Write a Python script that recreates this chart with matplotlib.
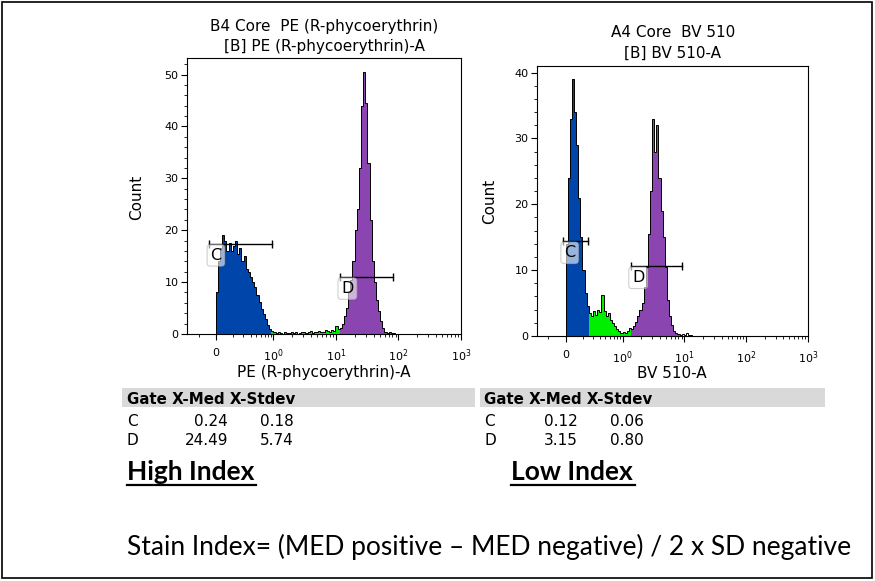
import numpy as np
import matplotlib.pyplot as plt
from matplotlib.patches import Rectangle
from matplotlib.lines import Line2D
from matplotlib.ticker import FixedLocator, MultipleLocator

plt.rcParams['font.family'] = ['DejaVu Sans']

# histogram counts per channel, channel 0 starts at 0; 27 channels span 0..10^0
pe_counts = [8, 14, 16.5, 19, 18, 16, 17.5, 16, 17, 18, 15.5, 16.5, 14, 15, 12.5, 12,
             11, 10, 9, 7.5, 6.2, 4.8, 3.8, 2.8, 1.8, 1.0, 0.5,
             0.3, 0.1, 0.4, 0.2, 0, 0.3, 0.2, 0.1, 0.4, 0.2, 0.3, 0, 0.2, 0.4, 0.3, 0.1,
             0.3, 0.5, 0.2, 0.4, 0.3, 0.6, 0.4, 0.3, 0.7, 0.5, 0.4, 0.8,
             0.6, 1.5, 0.9, 1.2, 2.0, 3.5, 5.0, 8.0, 10.5, 14, 20, 24, 32, 44, 50.5, 44.5,
             33, 22, 14, 10, 6.5, 4.5, 2.5, 1.2, 0.4, 0.2, 0.3, 0.1, 0.2]
bv_counts = [14, 24, 33, 39, 34, 29, 21, 15, 10, 6.5, 4.5,
             3.5, 3.0, 3.8, 3.2, 4.0, 3.6, 6.2, 3.8, 3.0, 3.5, 2.4, 2.0, 1.5, 1.0, 0.8,
             0.5, 0.6, 0.4, 0.8, 1.2,
             1.0, 1.5, 2.2, 3.0, 4.0, 5.0, 7.5, 10.5, 15.5, 22, 33, 28, 32, 24, 19, 15,
             10.5, 5.5, 3.0, 1.7, 0.8, 0.4, 0.3, 0.2,
             0.3, 0.1, 0.4, 0.2, 0.1]

gate_names = ["C", "D"]
pe_gate_lo = [-0.12, 11.5]
pe_gate_hi = [0.97, 81.0]
pe_gate_y = [17.4, 11.0]
bv_gate_lo = [-0.05, 1.35]
bv_gate_hi = [0.40, 9.0]
bv_gate_y = [14.4, 10.6]

pe_med = ["0.24", "24.49"]
pe_sd = ["0.18", "5.74"]
bv_med = ["0.12", "3.15"]
bv_sd = ["0.06", "0.80"]

tick_vals = [0, 1, 10, 100, 1000]
tick_text = ["0", "$10^0$", "$10^1$", "$10^2$", "$10^3$"]

BLUE = "#0046aa"
PURPLE = "#8a45b0"
GREEN = "#00ee00"

W, H = 875, 581
FS = 11


def fx(x):
    return x / W


def fy(y):
    return 1 - y / H


def draw_hist(ax, counts, lo, hi, gy, ymax):
    ax.set_xscale("symlog", linthresh=1, linscale=0.83)
    ax.set_xlim(-0.5, 1000)
    ax.set_ylim(0, ymax)
    tr = ax.xaxis.get_transform()
    inv = tr.inverted()
    step = tr.transform(np.array([1.0]))[0] / 27
    n = len(counts)
    counts = np.asarray(counts, float)
    edges = inv.transform(np.arange(n + 1) * step)
    mids = inv.transform((np.arange(n) + 0.5) * step)

    masks = [((mids >= lo[0]) & (mids <= hi[0]), BLUE),
             ((mids >= lo[1]) & (mids <= hi[1]), PURPLE),
             ((mids > hi[0]) & (mids < lo[1]), GREEN)]
    for m, col in masks:
        idx = np.where(m)[0]
        if len(idx):
            a, b = idx[0], idx[-1] + 1
            ax.stairs(counts[a:b], edges[a:b + 1], fill=True, color=col, lw=0)
    ax.stairs(counts, edges, color="black", lw=0.7)

    for name, l, h, y in zip(gate_names, lo, hi, gy):
        ax.plot([l, h], [y, y], color="black", lw=1, marker="|", ms=6, mew=1)
        ax.annotate(name, xy=(l, y), xytext=(1, -3), textcoords="offset points",
                    ha="left", va="top", fontsize=11.5,
                    bbox=dict(boxstyle="round,pad=0.2", fc="white", ec="#b0b0b0",
                              lw=0.8, alpha=0.6))

    ax.xaxis.set_major_locator(FixedLocator(tick_vals))
    ax.set_xticklabels(tick_text)
    minor = [-0.3] + list(np.log10(np.arange(2, 10)))
    minor += [m * 10 ** k for k in range(3) for m in range(2, 10)]
    ax.xaxis.set_minor_locator(FixedLocator(minor))
    ax.yaxis.set_major_locator(MultipleLocator(10))
    ax.yaxis.set_minor_locator(MultipleLocator(2))
    ax.tick_params(which="major", length=4, width=0.8, labelsize=8, pad=2)
    ax.tick_params(axis="x", which="major", pad=6)
    ax.tick_params(which="minor", length=2, width=0.6)
    for s in ax.spines.values():
        s.set_linewidth(0.8)


fig = plt.figure(figsize=(W / 100, H / 100), dpi=100)

ax1 = fig.add_axes([fx(187), fy(334), fx(461 - 187), (334 - 58) / H])
draw_hist(ax1, pe_counts, pe_gate_lo, pe_gate_hi, pe_gate_y, 53.2)
ax2 = fig.add_axes([fx(537), fy(336), fx(808 - 537), (336 - 66) / H])
draw_hist(ax2, bv_counts, bv_gate_lo, bv_gate_hi, bv_gate_y, 41)

# titles and axis labels
fig.text(fx(324), fy(31), "B4 Core  PE (R-phycoerythrin)", ha="center", va="baseline", fontsize=FS)
fig.text(fx(324), fy(51), "[B] PE (R-phycoerythrin)-A", ha="center", va="baseline", fontsize=FS)
fig.text(fx(673), fy(37), "A4 Core  BV 510", ha="center", va="baseline", fontsize=FS)
fig.text(fx(673), fy(58), "[B] BV 510-A", ha="center", va="baseline", fontsize=FS)
fig.text(fx(137), fy(197), "Count", rotation=90, ha="center", va="center", fontsize=FS)
fig.text(fx(490), fy(201), "Count", rotation=90, ha="center", va="center", fontsize=FS)
fig.text(fx(324), fy(373), "PE (R-phycoerythrin)-A", ha="center", va="center", fontsize=FS)
fig.text(fx(672), fy(373), "BV 510-A", ha="center", va="center", fontsize=FS)

# statistic tables
for x0, x1 in [(122, 475), (480, 825)]:
    fig.patches.append(Rectangle((fx(x0), fy(407)), fx(x1 - x0), 19 / H,
                                 transform=fig.transFigure, fc="#d9d9d9", ec="none"))
for left, mr, sr, med, sd in [(127, 228, 294, pe_med, pe_sd), (484, 578, 644, bv_med, bv_sd)]:
    fig.text(fx(left), fy(404), "Gate X-Med X-Stdev", ha="left", va="baseline",
             fontsize=10.8, fontweight="bold")
    for i, name in enumerate(gate_names):
        yb = [426, 445][i]
        fig.text(fx(left), fy(yb), name, ha="left", va="baseline", fontsize=FS)
        fig.text(fx(mr), fy(yb), med[i], ha="right", va="baseline", fontsize=FS)
        fig.text(fx(sr), fy(yb), sd[i], ha="right", va="baseline", fontsize=FS)

# bottom notes
fig.text(fx(127), fy(480), "High Index", ha="left", va="baseline", fontsize=19,
         fontweight="bold", family=["Lato", "DejaVu Sans"])
fig.text(fx(511), fy(480), "Low Index", ha="left", va="baseline", fontsize=19,
         fontweight="bold", family=["Lato", "DejaVu Sans"])
for x0, x1 in [(127, 256), (511, 635)]:
    fig.add_artist(Line2D([fx(x0), fx(x1)], [fy(485), fy(485)], color="black", lw=1.6,
                          transform=fig.transFigure))
fig.text(fx(127), fy(555), "Stain Index= (MED positive \u2013 MED negative) / 2 x SD negative",
         ha="left", va="baseline", fontsize=19, family=["Lato", "DejaVu Sans"])

fig.patches.append(Rectangle((fx(2), fy(578)), fx(870), 576 / H, transform=fig.transFigure,
                             fc="none", ec="black", lw=1.2))

fig.savefig("out.png", dpi=100)
